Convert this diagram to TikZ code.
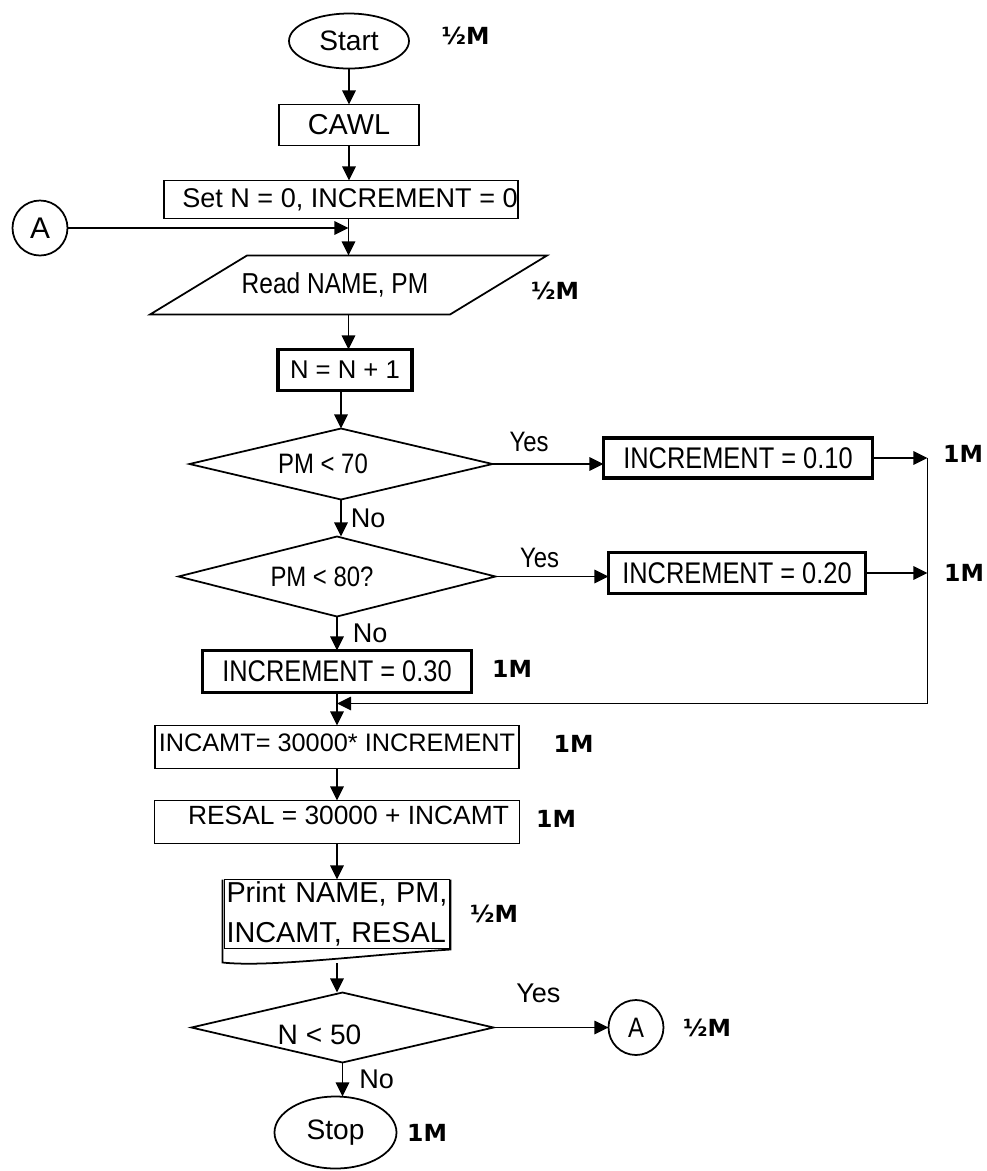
\documentclass[tikz,border=0pt]{standalone}
\usepackage{fontspec}
\setmainfont{Liberation Sans}
\newfontfamily\narrowfont[FakeStretch=0.85]{Liberation Sans}
\newfontfamily\markfont{DejaVu Sans}
\usetikzlibrary{shapes.geometric,arrows.meta,positioning}

\begin{document}
\begin{tikzpicture}[
    font=\fontsize{7.7}{9}\selectfont,
    term/.style={ellipse, draw, line width=0.5pt, inner sep=0pt, outer sep=0pt, font=\fontsize{8}{9}\selectfont},
    proc/.style={rectangle, draw, line width=0.5pt, inner sep=0pt, outer sep=0pt},
    incr/.style={proc, line width=0.95pt, minimum height=0.41cm, font=\narrowfont\fontsize{8.5}{9}\selectfont},
    decision/.style={diamond, aspect=4, draw, line width=0.5pt, inner sep=0pt, outer sep=0pt},
    conn/.style={circle, draw, line width=0.5pt, inner sep=0pt, outer sep=0pt, minimum size=0.55cm},
    narrow/.style={font=\narrowfont\fontsize{8}{9}\selectfont},
    arrow/.style={-{Triangle[length=4pt,width=3.8pt]}, line width=0.5pt},
    marks/.style={inner sep=0pt, font=\markfont\bfseries\fontsize{6.7}{8}\selectfont}
]
\useasboundingbox (0,0) rectangle (9.87,-11.71);

% Main column
\node[term, minimum width=1.20cm, minimum height=0.55cm] (start) at (3.49,-0.41) {Start};
\node[proc, below=0.36cm of start, minimum width=1.40cm, minimum height=0.41cm, font=\fontsize{8.2}{9}\selectfont] (cawl) {CAWL};
\node[proc, below=0.35cm of cawl, xshift=-0.08cm, minimum width=3.51cm, minimum height=0.38cm] (setbox) {\hspace*{0.18cm}Set N = 0, INCREMENT = 0};
\node[below=0.37cm of setbox, xshift=0.075cm, minimum width=3.00cm, minimum height=0.59cm, inner sep=0pt, outer sep=0pt, font=\narrowfont\fontsize{8.2}{9}\selectfont] (read) {Read NAME, PM\hspace*{0.27cm}};
\draw[line width=0.5pt] ([xshift=-0.485cm]read.south west) -- ([xshift=-0.485cm]read.south east)
    -- ([xshift=0.485cm]read.north east) -- ([xshift=0.485cm]read.north west) -- cycle;
\node[proc, line width=0.95pt, below=0.35cm of read, xshift=-0.035cm, minimum width=1.34cm, minimum height=0.41cm, font=\fontsize{7.3}{9}\selectfont] (nbox) {N = N + 1};
\node[decision, narrow, below=0.38cm of nbox, xshift=-0.04cm, minimum width=3.03cm, minimum height=0.71cm] (d1) {PM < 70\hspace*{0.36cm}};
\node[decision, narrow, below=0.37cm of d1, xshift=-0.04cm, minimum width=3.17cm, minimum height=0.80cm] (d2) {PM < 80?\hspace*{0.30cm}};
\node[incr, below=0.34cm of d2, minimum width=2.69cm, minimum height=0.42cm] (inc3) {INCREMENT = 0.30};
\node[proc, below=0.33cm of inc3, minimum width=3.64cm, minimum height=0.43cm, text depth=0.09cm, font=\fontsize{7.2}{9}\selectfont] (incamt) {INCAMT= 30000* INCREMENT};
\node[proc, below=0.32cm of incamt, minimum width=3.65cm, minimum height=0.43cm, text depth=0.13cm, font=\fontsize{7.5}{9}\selectfont] (resal) {\hspace*{0.23cm}RESAL = 30000 + INCAMT};
\node[proc, below=0.36cm of resal, minimum width=2.25cm, minimum height=0.69cm, text width=2.21cm, align=left, font=\fontsize{8.2}{11.4}\selectfont] (print) {\makebox[2.21cm][s]{Print NAME, PM,}\\INCAMT, RESAL};
\draw[line width=0.5pt] ([xshift=-0.02cm]print.north west) -- ([xshift=-0.02cm,yshift=-0.14cm]print.south west)
    .. controls +(0.45,-0.05) and +(-0.9,-0.06) .. ([xshift=0.01cm,yshift=-0.01cm]print.south east) -- ([xshift=0.01cm]print.north east);
\coordinate (pbot) at ([yshift=-0.145cm]print.south);
\node[decision, below=0.44cm of print, xshift=0.055cm, minimum width=3.02cm, minimum height=0.70cm, text height=0.34cm, text depth=0cm, font=\fontsize{8}{9}\selectfont] (d3) {N < 50\hspace*{0.46cm}};
\node[term, below=0.34cm of d3, xshift=-0.07cm, minimum width=1.22cm, minimum height=0.72cm] (stop) {Stop};

% Side branches
\node[incr, right=1.11cm of d1, yshift=0.06cm, minimum width=2.69cm, minimum height=0.40cm] (inc1) {INCREMENT = 0.10};
\node[incr, right=1.13cm of d2, yshift=0.035cm, minimum width=2.57cm] (inc2) {INCREMENT = 0.20};
\coordinate (rline) at ([xshift=0.55cm]inc1.east);
\coordinate (merge) at ([yshift=-0.11cm]inc3.south);

% Connectors
\node[conn, font=\fontsize{8.5}{9}\selectfont] (a1) at (0.40,-2.28) {A};
\node[conn, narrow, right=1.15cm of d3] (a2) {A};

% Edges
\draw[arrow] (start.south) -- (cawl.north);
\draw[arrow] (cawl.south) -- (cawl.south |- setbox.north);
\draw[arrow] (setbox.south -| read.north) -- (read.north);
\draw[arrow] (a1.east) -- (a1.east -| read.north);
\draw[arrow] (read.south) -- (read.south |- nbox.north);
\draw[arrow] (nbox.south -| d1.north) -- (d1.north);
\draw[arrow] (d1.south) -- (d1.south |- d2.north) node[midway, right=0.09cm, inner sep=0pt] {No};
\draw[arrow] (d2.south) -- (d2.south |- inc3.north) node[midway, right=0.15cm, inner sep=0pt] {No};
\draw[arrow] (d1.east) -- (d1.east -| inc1.west) node[pos=0.33, above=0.11cm, inner sep=0pt, narrow] {Yes};
\draw[arrow] (d2.east) -- (d2.east -| inc2.west) node[pos=0.39, above=0.08cm, inner sep=0pt, narrow] {Yes};
\draw[arrow] (inc1.east) -- (rline);
\draw[arrow] (inc2.east) -- (inc2.east -| rline);
\draw[arrow] (rline) |- (merge);
\draw[arrow] (inc3.south) -- (incamt.north);
\draw[arrow] (incamt.south) -- (resal.north);
\draw[arrow] (resal.south) -- (resal.south |- print.north);
\draw[arrow] (pbot) -- (pbot |- d3.north);
\draw[arrow] (d3.east) -- (a2.west) node[pos=0.39, above=0.24cm, inner sep=0pt] {Yes};
\draw[arrow] (d3.south) -- (d3.south |- stop.north) node[midway, right=0.16cm, inner sep=0pt] {No};

% Marks
\node[marks, right=0.32cm of start, yshift=0.05cm] {½M};
\node[marks, right=0.32cm of read, yshift=-0.055cm] {½M};
\node[marks, right=0.70cm of inc1, yshift=0.04cm] {1M};
\node[marks, right=0.78cm of inc2] {1M};
\node[marks, right=0.20cm of inc3, yshift=0.03cm] {1M};
\node[marks, right=0.34cm of incamt, yshift=0.035cm] {1M};
\node[marks, right=0.16cm of resal, yshift=0.035cm] {1M};
\node[marks, right=0.20cm of print] {½M};
\node[marks, right=0.19cm of a2] {½M};
\node[marks, right=0.10cm of stop] {1M};

\end{tikzpicture}
\end{document}
